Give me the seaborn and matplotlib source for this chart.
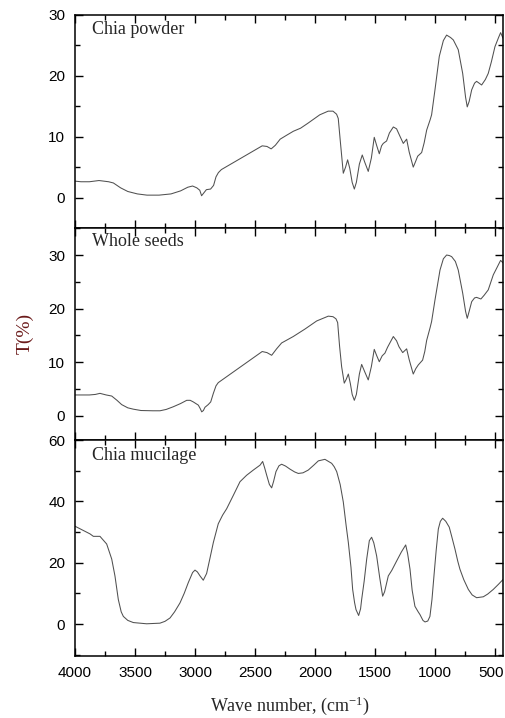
import matplotlib
matplotlib.use("Agg")
import numpy as np
import pandas as pd
import matplotlib.pyplot as plt
import seaborn as sns
from matplotlib.ticker import MultipleLocator

# ---------------- data ----------------
wn_powder = [4000, 3950, 3880, 3800, 3720, 3680, 3620, 3560, 3480, 3400, 3300, 3200,
             3120, 3060, 3020, 2985, 2960, 2945, 2925, 2905, 2870, 2845, 2825, 2805,
             2780, 2440, 2400, 2365, 2330, 2290, 2240, 2180, 2120, 2060, 1960, 1890,
             1850, 1820, 1806, 1790, 1764, 1745, 1728, 1710, 1690, 1672, 1655, 1630,
             1606, 1585, 1556, 1530, 1506, 1485, 1464, 1445, 1431, 1403, 1380, 1347,
             1320, 1290, 1264, 1236, 1215, 1181, 1160, 1144, 1111, 1090, 1069, 1040,
             1028, 1000, 964, 930, 903, 870, 847, 806, 769, 745, 731, 715, 694, 670,
             653, 611, 580, 556, 530, 500, 470, 453, 433]
t_powder = [2.7, 2.6, 2.6, 2.8, 2.6, 2.4, 1.6, 1.0, 0.6, 0.4, 0.4, 0.6,
            1.1, 1.7, 1.9, 1.6, 1.2, 0.3, 0.8, 1.3, 1.4, 2.0, 3.4, 4.1,
            4.6, 8.5, 8.4, 8.0, 8.6, 9.6, 10.2, 10.9, 11.4, 12.2, 13.6, 14.2,
            14.2, 13.7, 13.0, 9.5, 4.0, 5.0, 6.2, 4.8, 2.5, 1.4, 2.5, 5.5,
            7.0, 5.8, 4.3, 6.5, 9.9, 8.5, 7.2, 8.5, 8.9, 9.3, 10.6, 11.6,
            11.3, 10.0, 8.9, 9.6, 7.5, 5.0, 6.0, 6.8, 7.4, 9.0, 11.1, 12.8,
            13.6, 17.7, 23.2, 25.8, 26.7, 26.3, 25.9, 24.3, 20.4, 16.5, 14.9, 15.8, 17.7, 18.8,
            19.1, 18.5, 19.4, 20.4, 22.3, 24.8, 26.3, 27.1, 26.2]

wn_seeds = [4000, 3880, 3830, 3792, 3740, 3694, 3650, 3611, 3560, 3514, 3450, 3350,
            3292, 3240, 3181, 3120, 3069, 3040, 3014, 2972, 2955, 2944, 2930, 2917,
            2890, 2869, 2847, 2825, 2806, 2440, 2400, 2361, 2320, 2278, 2181, 2083,
            1986, 1889, 1850, 1825, 1811, 1795, 1778, 1756, 1740, 1722, 1705, 1690,
            1672, 1655, 1630, 1611, 1585, 1556, 1530, 1506, 1485, 1464, 1440, 1417,
            1395, 1347, 1320, 1300, 1269, 1236, 1215, 1181, 1160, 1139, 1103, 1085,
            1069, 1040, 1028, 1000, 958, 930, 903, 880, 861, 830, 806, 769, 745,
            731, 715, 694, 670, 653, 617, 590, 556, 514, 480, 453, 431]
t_seeds = [3.9, 3.9, 4.0, 4.2, 3.9, 3.7, 2.9, 2.1, 1.5, 1.25, 1.0, 0.95,
           0.95, 1.2, 1.7, 2.3, 2.9, 2.9, 2.6, 2.0, 1.3, 0.75, 1.0, 1.6,
           2.1, 2.6, 4.2, 5.6, 6.2, 12.0, 11.8, 11.3, 12.5, 13.6, 14.8, 16.2,
           17.7, 18.6, 18.5, 18.1, 17.4, 13.0, 9.2, 6.1, 6.8, 7.8, 6.0, 4.0,
           2.9, 4.0, 7.8, 9.6, 8.2, 6.7, 9.2, 12.4, 11.2, 10.1, 11.2, 11.7,
           12.8, 14.8, 14.0, 12.9, 11.8, 12.5, 10.5, 7.8, 8.8, 9.5, 10.4, 12.0,
           14.1, 16.5, 17.6, 21.6, 27.2, 29.3, 30.0, 29.9, 29.7, 28.8, 27.2, 22.9, 19.5,
           18.2, 19.5, 21.3, 22.0, 22.1, 21.8, 22.5, 23.5, 26.3, 27.8, 29.0, 28.5]

wn_mucilage = [4000, 3875, 3847, 3792, 3736, 3694, 3667, 3639, 3615, 3597, 3560, 3514,
               3403, 3292, 3250, 3208, 3170, 3125, 3090, 3056, 3020, 3000, 2980, 2958,
               2931, 2903, 2875, 2847, 2806, 2770, 2736, 2680, 2625, 2570, 2514, 2458,
               2436, 2420, 2403, 2380, 2361, 2345, 2325, 2300, 2278, 2245, 2208, 2170,
               2139, 2100, 2056, 2010, 1972, 1917, 1861, 1840, 1819, 1790, 1764, 1740,
               1722, 1700, 1686, 1670, 1658, 1636, 1620, 1611, 1590, 1569, 1547, 1528,
               1510, 1486, 1460, 1436, 1420, 1389, 1360, 1319, 1280, 1244, 1228, 1208,
               1190, 1167, 1140, 1125, 1100, 1083, 1060, 1042, 1025, 1006, 990, 972,
               955, 936, 910, 881, 860, 833, 810, 792, 760, 722, 690, 653, 597, 560,
               514, 470, 431]
t_mucilage = [31.9, 29.4, 28.6, 28.6, 26.1, 21.2, 15.7, 8.0, 4.0, 2.5, 1.2, 0.5,
              0.1, 0.3, 0.9, 2.0, 4.0, 6.9, 10.0, 13.5, 16.8, 17.6, 17.0, 15.7,
              14.3, 16.5, 21.5, 26.6, 32.7, 35.5, 37.6, 42.0, 46.4, 48.5, 50.2, 51.8,
              53.0, 51.0, 48.6, 45.5, 44.4, 46.5, 49.7, 51.6, 52.1, 51.5, 50.5, 49.6,
              49.1, 49.3, 50.2, 51.8, 53.2, 53.7, 52.4, 51.3, 49.7, 45.5, 39.8, 32.0,
              26.6, 18.5, 11.3, 7.0, 4.7, 2.8, 5.0, 8.0, 14.0, 21.2, 27.2, 28.3,
              26.5, 22.2, 15.0, 9.1, 10.5, 15.7, 17.5, 20.6, 23.5, 25.8, 23.0, 17.9,
              11.0, 5.8, 4.0, 3.1, 1.2, 0.7, 1.0, 2.5, 8.0, 16.8, 24.0, 31.0,
              33.5, 34.5, 33.5, 31.6, 28.5, 24.4, 20.5, 17.9, 14.5, 11.3, 9.5, 8.6, 8.9, 9.8,
              11.3, 13.0, 14.6]

panel_names = ["Chia powder", "Whole seeds", "Chia mucilage"]
x_ticks = [4000, 3500, 3000, 2500, 2000, 1500, 1000, 500]
x_label = "Wave number, (cm$^{\\mathregular{-1}}$)"
y_label = "T(%)"

# ---------------- style ----------------
sns.set_style("ticks")
plt.rcParams["font.family"] = ["Liberation Sans", "DejaVu Sans"]
plt.rcParams["mathtext.fontset"] = "custom"
plt.rcParams["mathtext.rm"] = "Liberation Serif"
plt.rcParams["mathtext.it"] = "Liberation Serif:italic"
plt.rcParams["axes.linewidth"] = 1.1

serif = ["Liberation Serif", "DejaVu Serif"]
line_color = "#505050"

fig = plt.figure(figsize=(5.05, 7.18), dpi=100)
L, W = 75 / 505, 428 / 505
ax1 = fig.add_axes([L, 1 - 228 / 718, W, 213 / 718])
ax2 = fig.add_axes([L, 1 - 440 / 718, W, 212 / 718])
ax3 = fig.add_axes([L, 1 - 656 / 718, W, 216 / 718])

datasets = [
    (ax1, wn_powder, t_powder, (-5, 30), 10, 5, 0.934),
    (ax2, wn_seeds, t_seeds, (-4.5, 35.04), 10, 5, 0.934),
    (ax3, wn_mucilage, t_mucilage, (-10.4, 60), 20, 10, 0.926),
]

for (ax, wn, tv, ylim, major, minor, ty), name in zip(datasets, panel_names):
    df = pd.DataFrame({"wn": wn, "T": tv})
    sns.lineplot(data=df, x="wn", y="T", ax=ax, color=line_color,
                 linewidth=0.75, sort=False, estimator=None)
    ax.set_xlim(4000, 433)
    ax.set_ylim(*ylim)
    ax.yaxis.set_major_locator(MultipleLocator(major))
    ax.yaxis.set_minor_locator(MultipleLocator(minor))
    ax.set_xticks(x_ticks)
    ax.xaxis.set_minor_locator(MultipleLocator(250))
    ax.tick_params(which="both", direction="in", top=True, right=True,
                   width=1.0, labelsize=11, colors="black", pad=7)
    ax.tick_params(which="major", length=6)
    ax.tick_params(which="minor", length=3.5)
    ax.set_xlabel("")
    ax.set_ylabel("")
    ax.text(0.04, ty, name, transform=ax.transAxes, fontsize=13,
            family=serif, va="center", ha="left")
    for s in ax.spines.values():
        s.set_color("black")

for ax in (ax1, ax2):
    ax.tick_params(labelbottom=False)

# keep the right-most x tick label inside the canvas, as in the reference
for lab in ax3.get_xticklabels():
    if lab.get_text() == "500":
        lab.set_horizontalalignment("right")
        lab.set_x(lab.get_position()[0])
fig.canvas.draw()
last = ax3.xaxis.get_major_ticks()[-1]
last.label1.set_horizontalalignment("center")
import matplotlib.transforms as mtransforms
last.label1.set_transform(last.label1.get_transform()
                          + mtransforms.ScaledTranslation(-3 / 72, 0, fig.dpi_scale_trans))

fig.text(0.574, 0.017, x_label, ha="center", va="center", fontsize=13, family=serif)
fig.text(0.05, 0.536, y_label, ha="center", va="center", rotation=90,
         fontsize=14, family=serif, color="#6b1a1a")

fig.savefig("out.png", dpi=100)
